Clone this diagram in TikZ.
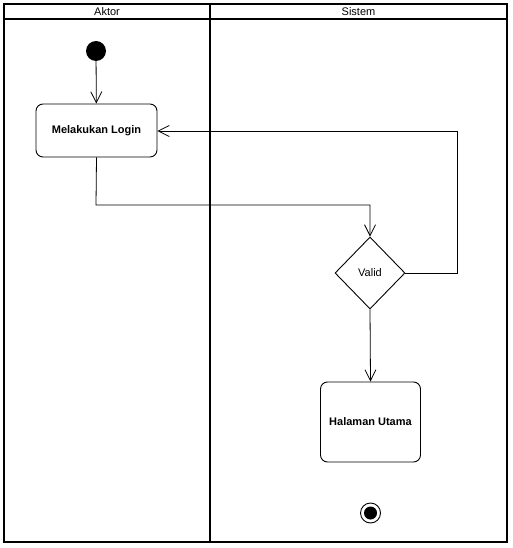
\documentclass[tikz,border=0pt]{standalone}
\usepackage{fontspec}
\setmainfont{Liberation Sans}
\usetikzlibrary{arrows.meta,shapes.geometric}
\begin{document}
\begin{tikzpicture}[x=1pt,y=-1pt,
  frame/.style={draw=black,line width=1.6pt},
  lbl/.style={font=\fontsize{11}{12}\selectfont,inner sep=0pt},
  action/.style={draw=black,line width=0.9pt,rounded corners=7pt,inner sep=0pt,
    font=\fontsize{11}{12}\selectfont\bfseries,align=center},
  decision/.style={draw=black,line width=0.9pt,diamond,inner sep=0pt,
    minimum width=70pt,minimum height=72pt,font=\fontsize{11}{12}\selectfont},
  flow/.style={draw=black,line width=0.8pt,-{Straight Barb[length=11pt,width=11pt,line width=0.8pt]}},
  initnode/.style={circle,fill=black,minimum size=20pt,inner sep=0pt},
  finalout/.style={circle,draw=black,line width=0.9pt,minimum size=20pt,inner sep=0pt},
  finalin/.style={circle,fill=black,minimum size=13pt,inner sep=0pt}
]
\useasboundingbox[fill=white] (0,0) rectangle (512,548);
% swimlanes
\draw[frame] (4,4) rectangle (507,542);
\draw[frame] (4,19) -- (507,19);
\draw[frame] (210,4) -- (210,542);
\node[lbl] (aktor) at (107,11.5) {Aktor};
\node[lbl] (sistem) at (358.5,11.5) {Sistem};
% nodes
\node[initnode] (start) at (96,51) {};
\node[action,minimum width=121pt,minimum height=53pt] (login) at (96.5,130.5) {Melakukan Login};
\node[decision] (valid) at (370,273) {Valid};
\node[action,minimum width=100pt,minimum height=80pt] (home) at (370.5,422) {Halaman Utama};
\node[finalout] (endo) at (370.5,513) {};
\node[finalin] (endi) at (endo) {};
% connectors
\draw[flow] (start) -- (login);
\draw[flow] (login.south) -- (96,205) -- (370,205) -- (valid.north);
\draw[flow] (valid.east) -- (457,273) -- (457,131) -- (login.east |- 0,131);
\draw[flow] (valid.south) -- (home.north);
\end{tikzpicture}
\end{document}
